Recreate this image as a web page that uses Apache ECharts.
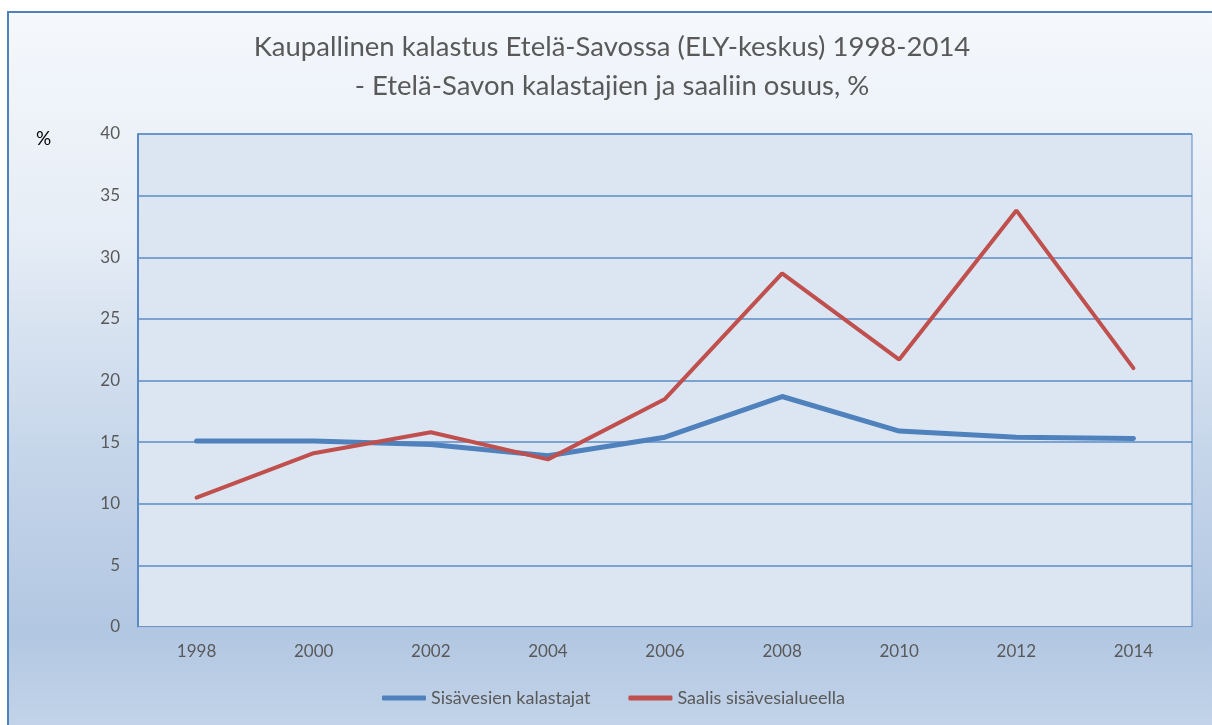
<!DOCTYPE html>
<html>
<head>
<meta charset="utf-8">
<script src="https://cdn.jsdelivr.net/npm/echarts@6/dist/echarts.min.js"></script>
<style>
  html, body { margin: 0; padding: 0; background: #fff; }
  #chart { width: 1212px; height: 725px; }
</style>
</head>
<body>
<div id="chart"></div>
<script>
// vuodet ja osuudet (%)
const years = ["1998", "2000", "2002", "2004", "2006", "2008", "2010", "2012", "2014"];
const kalastajat = [15.1, 15.1, 14.8, 13.9, 15.4, 18.7, 15.9, 15.4, 15.3];
const saalis = [10.5, 14.1, 15.8, 13.6, 18.5, 28.7, 21.7, 33.8, 21.0];
const seriesNames = ["Sisävesien kalastajat", "Saalis sisävesialueella"];
const titleLines = [
  "Kaupallinen kalastus Etelä-Savossa (ELY-keskus) 1998-2014",
  "- Etelä-Savon kalastajien ja saaliin osuus, %"
];

const font = "Lato, 'Open Sans', sans-serif";
const myChart = echarts.init(document.getElementById("chart"));

const option = {
  animation: false,
  textStyle: { fontFamily: font },
  graphic: [
    {
      type: "rect",
      z: -10,
      silent: true,
      shape: { x: 8, y: 12, width: 1220, height: 730 },
      style: {
        fill: new echarts.graphic.LinearGradient(0, 0, 0, 1, [
          { offset: 0, color: "#f5f8fc" },
          { offset: 0.3, color: "#e6edf6" },
          { offset: 0.6, color: "#c6d6ea" },
          { offset: 0.85, color: "#b2c7e2" },
          { offset: 1, color: "#c5d6ea" }
        ]),
        stroke: "#4f81bd",
        lineWidth: 2
      }
    },
    {
      type: "text",
      x: 612,
      y: 47,
      style: {
        text: titleLines[0],
        fill: "#595959",
        fontSize: 27.5,
        fontFamily: font,
        textAlign: "center",
        textVerticalAlign: "middle"
      }
    },
    {
      type: "text",
      x: 612,
      y: 86,
      style: {
        text: titleLines[1],
        fill: "#595959",
        fontSize: 27.5,
        fontFamily: font,
        textAlign: "center",
        textVerticalAlign: "middle"
      }
    },
    {
      type: "text",
      left: 36,
      top: 129,
      style: { text: "%", fill: "#000", fontSize: 19, fontFamily: font }
    }
  ],
  legend: {
    bottom: 13,
    left: 377,
    itemWidth: 44,
    itemHeight: 5,
    itemGap: 38,
    textStyle: { color: "#595959", fontSize: 18, fontFamily: font },
    data: seriesNames.map(name => ({ name: name, icon: "roundRect" }))
  },
  grid: {
    left: 138,
    right: 20,
    top: 134,
    bottom: 98,
    show: true,
    backgroundColor: "#dce6f2",
    borderColor: "#5b8bc6",
    borderWidth: 1
  },
  xAxis: {
    type: "category",
    data: years,
    boundaryGap: true,
    axisLine: { lineStyle: { color: "#b4c4d8", width: 1 } },
    axisTick: { show: false },
    axisLabel: { color: "#595959", fontSize: 17, margin: 16 }
  },
  yAxis: {
    type: "value",
    min: 0,
    max: 40,
    interval: 5,
    axisLine: { show: true, lineStyle: { color: "#5b8bc6", width: 2 } },
    axisTick: { show: false },
    axisLabel: { color: "#595959", fontSize: 17, margin: 18 },
    splitLine: { lineStyle: { color: "#5b8bc6", width: 1.5 } }
  },
  series: [
    {
      name: seriesNames[0],
      type: "line",
      data: kalastajat,
      symbol: "none",
      itemStyle: { color: "#4f81bd" },
      lineStyle: { color: "#4f81bd", width: 5, cap: "round" }
    },
    {
      name: seriesNames[1],
      type: "line",
      data: saalis,
      symbol: "none",
      itemStyle: { color: "#c0504d" },
      lineStyle: { color: "#c0504d", width: 4, cap: "round" }
    }
  ]
};

myChart.setOption(option);
window.onresize = () => {
  myChart.resize();
};
</script>
</body>
</html>
